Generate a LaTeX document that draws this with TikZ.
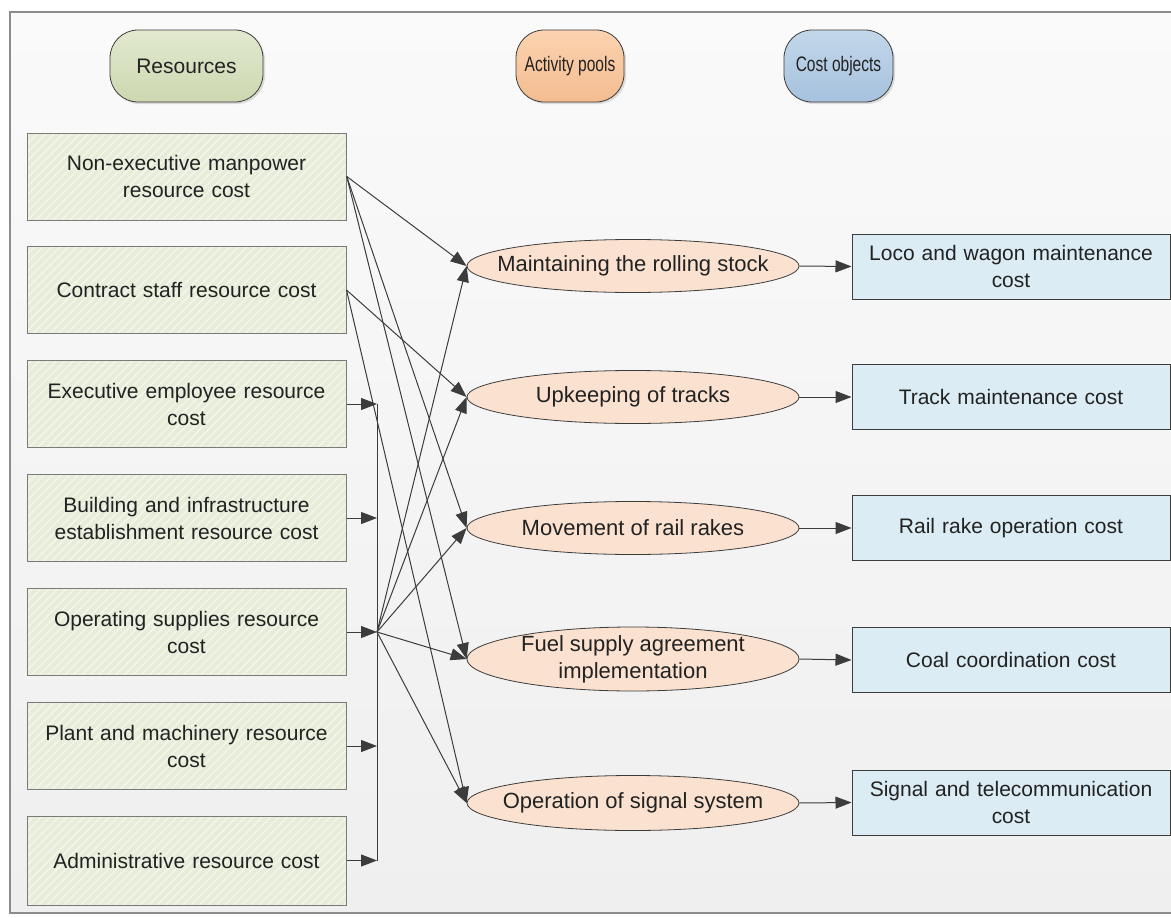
\documentclass[tikz,border=0pt]{standalone}
\usepackage{fontspec}
\setmainfont{Liberation Sans}
\usetikzlibrary{arrows.meta,patterns.meta,shadows,shapes.geometric}
\definecolor{framecol}{HTML}{8C8C8C}
\definecolor{bgtop}{HTML}{FAFAFA}
\definecolor{bgbot}{HTML}{EFEFEF}
\definecolor{resfill}{HTML}{E7EDD9}
\definecolor{hatchcol}{HTML}{F3F6EC}
\definecolor{boxline}{HTML}{7A7A7A}
\definecolor{actfill}{HTML}{FBE2D0}
\definecolor{costfill}{HTML}{DCECF4}
\definecolor{linecol}{HTML}{3C3C3C}
\definecolor{textcol}{HTML}{222222}
\definecolor{hresA}{HTML}{E2E9CF}
\definecolor{hresB}{HTML}{CCD8B0}
\definecolor{hactA}{HTML}{FBD3B0}
\definecolor{hactB}{HTML}{F4BC90}
\definecolor{hcostA}{HTML}{C3D7EA}
\definecolor{hcostB}{HTML}{A6C2DE}
\begin{document}
\begin{tikzpicture}[x=1pt,y=-1pt,
  every node/.style={text=textcol, font=\fontsize{21}{27}\selectfont},
  hdr/.style={draw=linecol, line width=0.8pt, rounded corners=28pt,
    minimum height=72pt, inner sep=0pt,
    drop shadow={opacity=0.25, shadow xshift=2pt, shadow yshift=-2pt}},
  resbox/.style={draw=boxline, line width=1pt, preaction={fill=resfill},
    pattern={Lines[angle=45,distance=6pt,line width=1.5pt]}, pattern color=hatchcol,
    minimum width=319pt, minimum height=87pt, text width=300pt, align=center, inner sep=0pt},
  actnode/.style={ellipse, draw=linecol, line width=0.8pt, fill=actfill,
    minimum width=332pt, minimum height=53pt, inner sep=0pt},
  acttext/.style={align=center, inner sep=0pt, font=\fontsize{22}{27}\selectfont},
  costbox/.style={draw=linecol, line width=1pt, fill=costfill,
    minimum width=318pt, minimum height=65pt, text width=300pt, align=center, inner sep=0pt},
  arr/.style={draw=linecol, line width=1pt, -{Triangle[length=16pt,width=12pt]}},
  busline/.style={draw=linecol, line width=1pt}
]
\useasboundingbox (0,0) rectangle (1171,918);
\fill[white] (0,0) rectangle (1171,918);
\draw[framecol, line width=1.2pt, top color=bgtop, bottom color=bgbot] (10,12) rectangle (1185,913);

% headers
\node[hdr, top color=hresA, bottom color=hresB, minimum width=153pt] (hres) at (186.5,66) {Resources};
\node[hdr, top color=hactA, bottom color=hactB, minimum width=108pt] (hact) at (570,66) {\scalebox{0.74}[1]{Activity pools}};
\node[hdr, top color=hcostA, bottom color=hcostB, minimum width=109pt] (hcost) at (838.5,66) {\scalebox{0.74}[1]{Cost objects}};

% resources
\node[resbox] (r1) at (186.5,176.5) {Non-executive manpower\\resource cost};
\node[resbox] (r2) at (186.5,290) {Contract staff resource cost};
\node[resbox] (r3) at (186.5,404) {Executive employee resource\\cost};
\node[resbox] (r4) at (186.5,518) {Building and infrastructure\\establishment resource cost};
\node[resbox] (r5) at (186.5,632) {Operating supplies resource\\cost};
\node[resbox] (r6) at (186.5,746) {Plant and machinery resource\\cost};
\node[resbox, minimum height=89pt] (r7) at (186.5,860.5) {Administrative resource cost};

% activities
\node[actnode] (a1) at (633,266) {};
\node[acttext] (a1t) at (a1) {Maintaining the rolling stock};
\node[actnode] (a2) at (633,397) {};
\node[acttext] (a2t) at (a2) {Upkeeping of tracks};
\node[actnode] (a3) at (633,528) {};
\node[acttext] (a3t) at (a3) {Movement of rail rakes};
\node[actnode, minimum height=64pt] (a4) at (633,659) {};
\node[acttext] (a4t) at (a4) {Fuel supply agreement\\implementation};
\node[actnode, minimum height=55pt] (a5) at (633,803) {};
\node[acttext] (a5t) at (a5) {Operation of signal system};

% cost objects
\node[costbox] (c1) at (1011,266.5) {Loco and wagon maintenance\\cost};
\node[costbox] (c2) at (1011,397) {Track maintenance cost};
\node[costbox] (c3) at (1011,528) {Rail rake operation cost};
\node[costbox] (c4) at (1011,660) {Coal coordination cost};
\node[costbox] (c5) at (1011,802.5) {Signal and telecommunication\\cost};

% bus
\coordinate (b3) at (377,404);
\coordinate (b4) at (377,518);
\coordinate (b5) at (377,632);
\coordinate (b6) at (377,746);
\coordinate (b7) at (377,860.5);
\draw[busline] (b3) -- (b7);
\foreach \i in {3,...,7} {\draw[arr] (r\i.east) -- (b\i);}

% direct lines
\draw[arr] (r1.east) -- (a1.west);
\draw[arr] (r1.east) -- (a3.west);
\draw[arr] (r1.east) -- (a4.west);
\draw[arr] (r2.east) -- (a2.west);
\draw[arr] (r2.east) -- (a5.west);

% fan
\foreach \i in {1,...,5} {\draw[arr] (b5) -- (a\i.west);}

% activity -> cost
\foreach \i in {1,...,5} {\draw[arr] (a\i.east) -- (c\i.west);}
\end{tikzpicture}
\end{document}
